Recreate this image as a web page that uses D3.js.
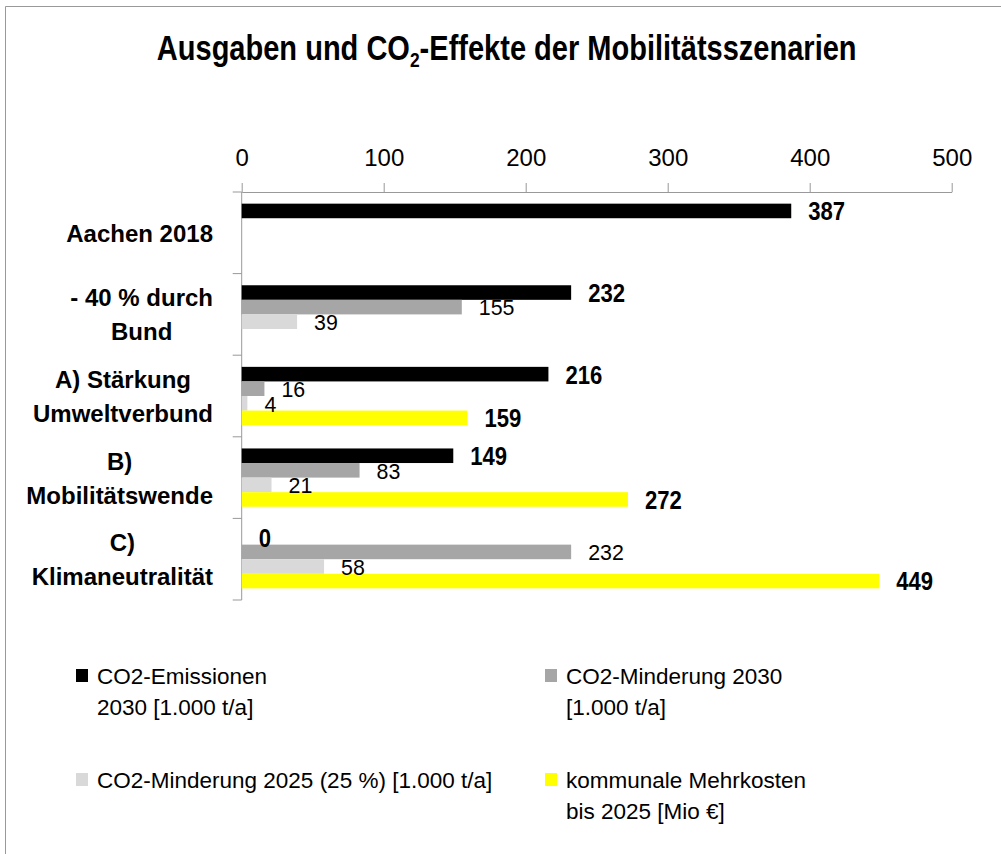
<!DOCTYPE html>
<html>
<head>
<meta charset="utf-8">
<script src="https://cdnjs.cloudflare.com/ajax/libs/d3/7.8.5/d3.min.js"></script>
<style>
  body { margin: 0; background: #fff; }
  text { font-family: "Liberation Sans", Arial, sans-serif; fill: #000; }
</style>
</head>
<body>
<div class="canvas"></div>
<script>
// chart data
const categories = ['Aachen 2018', '- 40 % durch Bund', 'A) Stärkung Umweltverbund', 'B) Mobilitätswende', 'C) Klimaneutralität'];
const categoryLines = [['Aachen 2018'], ['- 40 % durch', 'Bund'], ['A) Stärkung', 'Umweltverbund'], ['B)', 'Mobilitätswende'], ['C)', 'Klimaneutralität']];
const emissions2030 = [387, 232, 216, 149, 0];
const reduction2030 = [null, 155, 16, 83, 232];
const reduction2025 = [null, 39, 4, 21, 58];
const extraCosts2025 = [null, null, 159, 272, 449];
const seriesKeys = ['em2030', 'red2030', 'red2025', 'costs'];
const seriesNames = [['CO2-Emissionen', '2030 [1.000 t/a]'], ['CO2-Minderung 2030', '[1.000 t/a]'], ['CO2-Minderung 2025 (25 %) [1.000 t/a]'], ['kommunale Mehrkosten', 'bis 2025 [Mio €]']];
const seriesValues = [emissions2030, reduction2030, reduction2025, extraCosts2025];
const seriesColors = ['#000000', '#a6a6a6', '#d9d9d9', '#ffff00'];
const boldLabels = [true, false, false, true];
const xTicks = [0, 100, 200, 300, 400, 500];

const svg = d3.select('.canvas')
    .append('svg')
        .attr('width', 1001)
        .attr('height', 854);

// frame (only top and left edge visible)
svg.append('path')
    .attr('d', 'M5.5,854 V6.5 H1001')
    .attr('fill', 'none')
    .attr('stroke', '#999');

// title with subscript
const title = svg.append('text')
    .attr('text-anchor', 'middle')
    .attr('font-weight', 'bold')
    .attr('font-size', 35);
title.append('tspan').text('Ausgaben und CO');
title.append('tspan').attr('font-size', 21).attr('dy', 7).text('2');
title.append('tspan').attr('dy', -7).text('-Effekte der Mobilitätsszenarien');
const titleW = title.node().getComputedTextLength();
title.attr('transform', `translate(506.7, 60) scale(${700 / titleW}, 1)`);

//margins and dimensions
const margin = {top: 192, left: 241.7};
const graphWidth = 710;
const graphHeight = 408;

const graph = svg.append('g')
    .attr('transform', `translate(${margin.left}, ${margin.top})`);

const x = d3.scaleLinear()
    .domain([0, 500])
    .range([0, graphWidth]);

const y = d3.scaleBand()
    .domain(categories)
    .range([0, graphHeight]);

const ySub = d3.scaleBand()
    .domain(seriesKeys)
    .range([0, y.bandwidth()])
    .paddingOuter(0.8);

// top axis
const xAxis = d3.axisTop(x)
    .tickValues(xTicks)
    .tickSizeInner(9)
    .tickSizeOuter(0)
    .tickPadding(17);

const xAxisGroup = graph.append('g').call(xAxis);
xAxisGroup.select('.domain').attr('stroke', '#999');
xAxisGroup.selectAll('.tick line').attr('stroke', '#999');
xAxisGroup.selectAll('.tick text')
    .attr('font-size', 24)
    .attr('font-family', '"Liberation Sans", Arial, sans-serif')
    .attr('fill', '#000');

// left axis line with ticks between categories
graph.append('line')
    .attr('x1', 0).attr('x2', 0)
    .attr('y1', 0).attr('y2', graphHeight)
    .attr('stroke', '#999');

const boundaries = categories.map(c => y(c)).concat([graphHeight]);
graph.selectAll('.cat-tick')
    .data(boundaries)
    .enter()
    .append('line')
        .attr('class', 'cat-tick')
        .attr('x1', -9).attr('x2', 0)
        .attr('y1', d => d).attr('y2', d => d)
        .attr('stroke', '#999');

// category labels: lines centred, block right-aligned
categories.forEach((c, i) => {
    const g = svg.append('g');
    const lines = categoryLines[i];
    const lineH = 34;
    const mid = margin.top + y(c) + y.bandwidth() / 2;
    const texts = g.selectAll('text')
        .data(lines)
        .enter()
        .append('text')
            .attr('text-anchor', 'middle')
            .attr('font-weight', 'bold')
            .attr('font-size', 24)
            .attr('y', (d, k) => mid + 9 + (k - (lines.length - 1) / 2) * lineH)
            .text(d => d);
    let maxW = 0;
    texts.each(function() { maxW = Math.max(maxW, this.getComputedTextLength()); });
    texts.attr('x', 213 - maxW / 2);
});

// flatten data for bars
const barData = [];
categories.forEach((c, i) => {
    seriesKeys.forEach((k, j) => {
        const v = seriesValues[j][i];
        if (v !== null) barData.push({cat: c, key: k, value: v, idx: j});
    });
});

graph.selectAll('rect')
    .data(barData)
    .enter()
    .append('rect')
        .attr('x', 0)
        .attr('y', d => y(d.cat) + ySub(d.key))
        .attr('width', d => x(d.value))
        .attr('height', ySub.bandwidth())
        .attr('fill', d => seriesColors[d.idx]);

// value labels, a bit condensed like the original
graph.selectAll('.value')
    .data(barData)
    .enter()
    .append('text')
        .attr('class', 'value')
        .attr('transform', d => {
            const tx = x(d.value) + 17;
            const ty = y(d.cat) + ySub(d.key) + ySub.bandwidth() / 2;
            return `translate(${tx}, ${ty}) scale(${boldLabels[d.idx] ? 0.85 : 0.93}, 1)`;
        })
        .attr('dy', '0.36em')
        .attr('font-size', d => boldLabels[d.idx] ? 26 : 23)
        .attr('font-weight', d => boldLabels[d.idx] ? 'bold' : 'normal')
        .text(d => d.value);

// legend, 2 x 2
const legendPos = [[76, 669], [545, 669], [76, 773], [545, 773]];
const legend = svg.selectAll('.legend')
    .data(seriesKeys)
    .enter()
    .append('g')
        .attr('class', 'legend')
        .attr('transform', (d, i) => `translate(${legendPos[i][0]}, ${legendPos[i][1]})`);

legend.append('rect')
    .attr('width', 12)
    .attr('height', 13)
    .attr('fill', (d, i) => seriesColors[i]);

legend.each(function(d, i) {
    d3.select(this).selectAll('text')
        .data(seriesNames[i])
        .enter()
        .append('text')
            .attr('x', 21)
            .attr('y', (t, k) => 15 + k * 31)
            .attr('font-size', 22.5)
            .text(t => t);
});
</script>
</body>
</html>
